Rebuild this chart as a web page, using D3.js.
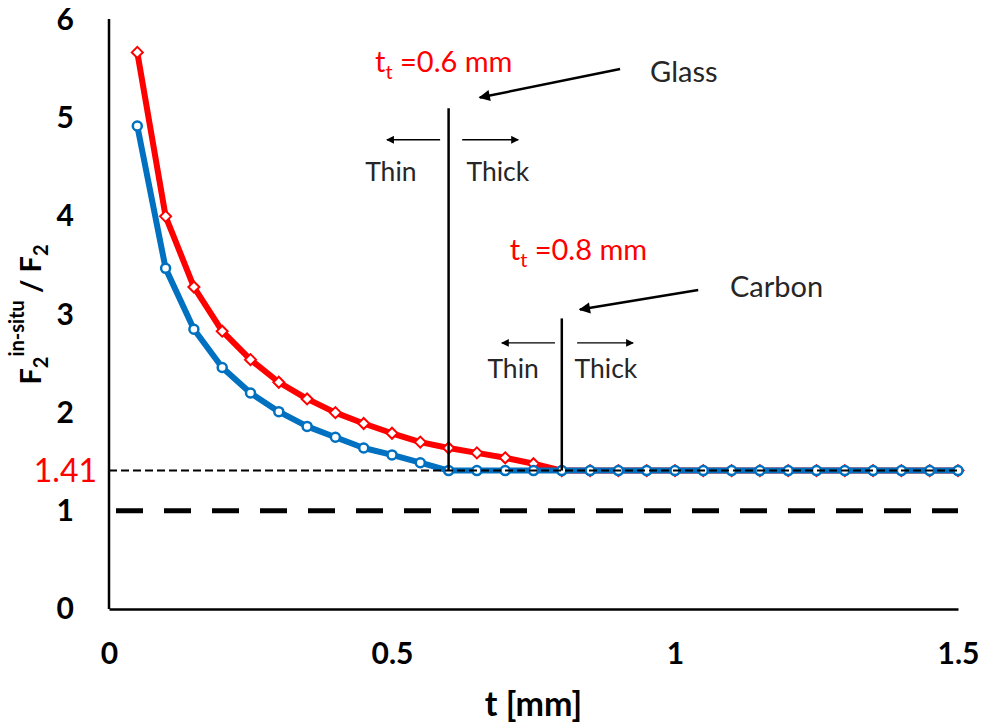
<!DOCTYPE html>
<html>
<head>
	<meta charset="utf-8">
	<style>
		body { margin: 0; background: #fff; }
		text { font-family: Lato, "Open Sans", sans-serif; }
	</style>
</head>
<body>
	<script src="https://d3js.org/d3.v7.min.js"></script>

	<script>
		// thickness t [mm], 0.05 .. 1.5
		const tValues = [0.05, 0.1, 0.15, 0.2, 0.25, 0.3, 0.35, 0.4, 0.45, 0.5,
			0.55, 0.6, 0.65, 0.7, 0.75, 0.8, 0.85, 0.9, 0.95, 1.0,
			1.05, 1.1, 1.15, 1.2, 1.25, 1.3, 1.35, 1.4, 1.45, 1.5];

		// carbon (red, diamonds)
		const carbonValues = [5.67, 4.00, 3.28, 2.83, 2.54, 2.31, 2.14, 2.00, 1.89, 1.79,
			1.70, 1.64, 1.59, 1.54, 1.48, 1.41, 1.41, 1.41, 1.41, 1.41,
			1.41, 1.41, 1.41, 1.41, 1.41, 1.41, 1.41, 1.41, 1.41, 1.41];

		// glass (blue, circles)
		const glassValues = [4.92, 3.47, 2.85, 2.46, 2.20, 2.01, 1.86, 1.75, 1.64, 1.57,
			1.49, 1.41, 1.41, 1.41, 1.41, 1.41, 1.41, 1.41, 1.41, 1.41,
			1.41, 1.41, 1.41, 1.41, 1.41, 1.41, 1.41, 1.41, 1.41, 1.41];

		const xTicks = [0, 0.5, 1, 1.5];
		const yTicks = [0, 1, 2, 3, 4, 5, 6];

		const limitValue = 1.41;
		const refValue = 1;

		const w = 982;
		const h = 724;
		const margin = { left: 109, top: 20, right: 24, bottom: 115 };

		const svg = d3.select('body')
			.append('svg')
			.attr('width', w)
			.attr('height', h);

		const x = d3.scaleLinear()
			.domain([0, 1.5])
			.range([margin.left, w - margin.right]);

		const y = d3.scaleLinear()
			.domain([0, 6])
			.range([h - margin.bottom, margin.top]);

		// axes (no tick marks)
		const xAxis = d3.axisBottom(x).tickValues(xTicks).tickSize(0).tickPadding(34)
			.tickFormat(d3.format('~g'));
		const yAxis = d3.axisLeft(y).tickValues(yTicks).tickSize(0).tickPadding(35)
			.tickFormat(d3.format('~g'));

		const gx = svg.append('g').attr('transform', `translate(0, ${y(0)})`).call(xAxis);
		const gy = svg.append('g').attr('transform', `translate(${x(0)}, 0)`).call(yAxis);

		[gx, gy].forEach(g => {
			g.select('.domain').attr('stroke', '#000').attr('stroke-width', 2.5);
			g.selectAll('text')
				.attr('font-family', 'Lato, sans-serif')
				.attr('font-size', 30)
				.attr('font-weight', 'bold')
				.attr('fill', '#000');
		});
		gy.select('.domain').attr('d', `M0,${y(0)}V${y(6) - 1}`);

		// axis titles
		svg.append('text')
			.attr('x', (x(0) + x(1.5)) / 2)
			.attr('y', h - 8)
			.attr('text-anchor', 'middle')
			.attr('font-size', 34)
			.attr('font-weight', 'bold')
			.text('t [mm]');

		const yTitle = svg.append('text')
			.attr('transform', `translate(41, ${(y(0) + y(6)) / 2}) rotate(-90)`)
			.attr('text-anchor', 'middle')
			.attr('font-size', 29)
			.attr('font-weight', 'bold');
		yTitle.append('tspan').text('F');
		yTitle.append('tspan').attr('font-size', 20).attr('dy', 7).text('2');
		yTitle.append('tspan').attr('font-size', 20).attr('dy', -24).text('in-situ');
		yTitle.append('tspan').attr('dy', 17).text(' / F');
		yTitle.append('tspan').attr('font-size', 20).attr('dy', 7).text('2');

		// reference line at 1
		svg.append('line')
			.attr('x1', x(0) + 7).attr('x2', x(1.5))
			.attr('y1', y(refValue)).attr('y2', y(refValue))
			.attr('stroke', '#000')
			.attr('stroke-width', 5)
			.attr('stroke-dasharray', '27,21');

		// series
		const carbon = tValues.map((t, i) => ({ t, v: carbonValues[i] }));
		const glass = tValues.map((t, i) => ({ t, v: glassValues[i] }));

		const line = d3.line().x(d => x(d.t)).y(d => y(d.v));

		svg.append('path')
			.attr('d', line(carbon))
			.attr('fill', 'none')
			.attr('stroke', '#ff0000')
			.attr('stroke-width', 6)
			.attr('stroke-linejoin', 'round');

		svg.selectAll('.diamond')
			.data(carbon)
			.join('path')
			.attr('class', 'diamond')
			.attr('transform', d => `translate(${x(d.t)}, ${y(d.v)})`)
			.attr('d', 'M0,-5.5L5.5,0L0,5.5L-5.5,0Z')
			.attr('fill', '#fff')
			.attr('stroke', '#ff0000')
			.attr('stroke-width', 2);

		svg.append('path')
			.attr('d', line(glass))
			.attr('fill', 'none')
			.attr('stroke', '#0070c0')
			.attr('stroke-width', 6)
			.attr('stroke-linejoin', 'round');

		svg.selectAll('.circle')
			.data(glass)
			.join('circle')
			.attr('class', 'circle')
			.attr('cx', d => x(d.t))
			.attr('cy', d => y(d.v))
			.attr('r', 4.5)
			.attr('fill', '#fff')
			.attr('stroke', '#0070c0')
			.attr('stroke-width', 2.5);

		// limit line at 1.41
		svg.append('line')
			.attr('x1', x(0)).attr('x2', x(1.5))
			.attr('y1', y(limitValue)).attr('y2', y(limitValue))
			.attr('stroke', '#000')
			.attr('stroke-width', 2)
			.attr('stroke-dasharray', '8,4');

		svg.append('text')
			.attr('x', 97)
			.attr('y', y(limitValue))
			.attr('dy', '0.35em')
			.attr('text-anchor', 'end')
			.attr('font-size', 32)
			.attr('fill', '#ff0000')
			.text('1.41');

		// transition thickness markers
		const defs = svg.append('defs');
		defs.append('marker')
			.attr('id', 'head')
			.attr('viewBox', '0 0 10 10')
			.attr('refX', 9).attr('refY', 5)
			.attr('markerWidth', 6).attr('markerHeight', 4.5)
			.attr('markerUnits', 'strokeWidth')
			.attr('orient', 'auto')
			.append('path')
			.attr('d', 'M0,0L10,5L0,10Z')
			.attr('fill', '#000');
		defs.append('marker')
			.attr('id', 'headSmall')
			.attr('viewBox', '0 0 10 10')
			.attr('refX', 9).attr('refY', 5)
			.attr('markerWidth', 8).attr('markerHeight', 6)
			.attr('markerUnits', 'strokeWidth')
			.attr('orient', 'auto')
			.append('path')
			.attr('d', 'M0,0L10,5L0,10Z')
			.attr('fill', '#000');

		const transitions = [
			{ t: 0.6, top: 5.10, label: '=0.6 mm', lx: 0.47, ly: 5.57,
				name: 'Glass', nx: 0.956, ny: 5.47,
				arrow: [[0.903, 5.50], [0.655, 5.21]],
				ay: 4.78, left: [0.585, 0.491], right: [0.624, 0.723],
				thinX: 0.498, thickX: 0.687, textY: 4.45 },
			{ t: 0.8, top: 2.96, label: '=0.8 mm', lx: 0.708, ly: 3.66,
				name: 'Carbon', nx: 1.097, ny: 3.28,
				arrow: [[1.041, 3.25], [0.832, 3.05]],
				ay: 2.71, left: [0.788, 0.694], right: [0.827, 0.926],
				thinX: 0.714, thickX: 0.878, textY: 2.45 }
		];

		transitions.forEach(d => {
			svg.append('line')
				.attr('x1', x(d.t)).attr('x2', x(d.t))
				.attr('y1', y(limitValue)).attr('y2', y(d.top))
				.attr('stroke', '#000')
				.attr('stroke-width', 2.5);

			const lab = svg.append('text')
				.attr('x', x(d.lx))
				.attr('y', y(d.ly))
				.attr('dy', '0.35em')
				.attr('font-size', 29)
				.attr('fill', '#ff0000');
			lab.append('tspan').text('t');
			lab.append('tspan').attr('font-size', 20).attr('dy', 7).text('t');
			lab.append('tspan').attr('dy', -7).text(' ' + d.label);

			svg.append('text')
				.attr('x', x(d.nx))
				.attr('y', y(d.ny))
				.attr('dy', '0.35em')
				.attr('font-size', 29)
				.attr('fill', '#262626')
				.text(d.name);

			svg.append('line')
				.attr('x1', x(d.arrow[0][0])).attr('y1', y(d.arrow[0][1]))
				.attr('x2', x(d.arrow[1][0])).attr('y2', y(d.arrow[1][1]))
				.attr('stroke', '#000')
				.attr('stroke-width', 2.5)
				.attr('marker-end', 'url(#head)');

			[d.left, d.right].forEach(a => {
				svg.append('line')
					.attr('x1', x(a[0])).attr('y1', y(d.ay))
					.attr('x2', x(a[1])).attr('y2', y(d.ay))
					.attr('stroke', '#000')
					.attr('stroke-width', 1.3)
					.attr('marker-end', 'url(#headSmall)');
			});

			[[d.thinX, 'Thin'], [d.thickX, 'Thick']].forEach(([tx, s]) => {
				svg.append('text')
					.attr('x', x(tx))
					.attr('y', y(d.textY))
					.attr('dy', '0.35em')
					.attr('text-anchor', 'middle')
					.attr('font-size', 26.5)
					.attr('fill', '#262626')
					.text(s);
			});
		});
	</script>
</body>
</html>
